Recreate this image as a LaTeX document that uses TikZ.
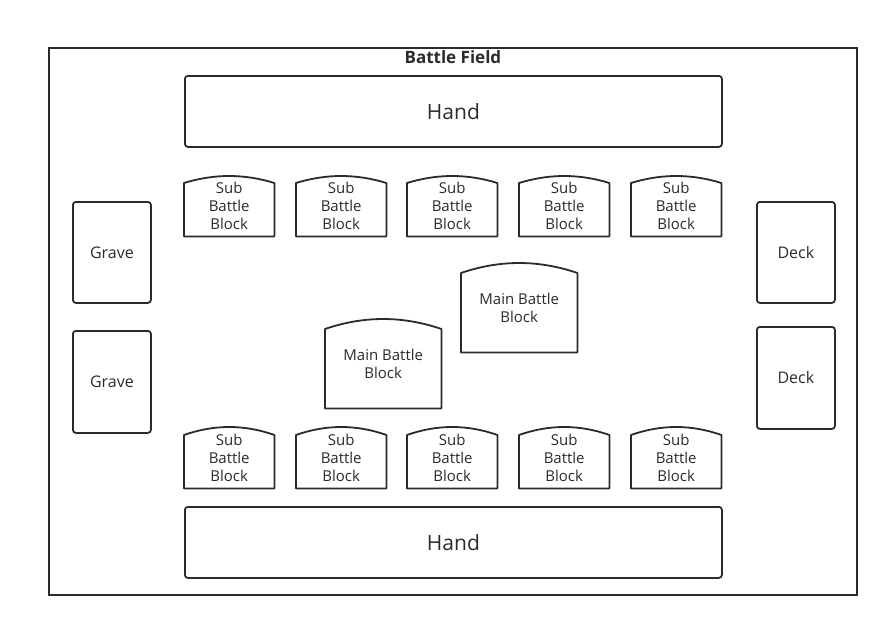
\documentclass[tikz,border=0pt]{standalone}
\usepackage{fontspec}
\setmainfont{Open Sans}
\usepackage{xcolor}
\usetikzlibrary{positioning,calc}
\definecolor{ink}{HTML}{2B2B2B}
\tikzset{
  field/.style = {draw=ink, line width=1.8pt, anchor=north west, inner sep=0pt},
  ttl/.style   = {font=\bfseries\fontsize{17}{20}\selectfont, text=ink, inner sep=1pt},
  zone/.style  = {draw=ink, line width=1.8pt, rounded corners=3pt, anchor=north west, inner sep=0pt,
                  align=center, text=ink, font=\fontsize{16}{19}\selectfont},
  hand/.style  = {zone, minimum width=537pt, minimum height=71pt, font=\fontsize{21}{24}\selectfont},
  pile/.style  = {zone, minimum width=78pt, minimum height=101pt},
  blk/.style   = {anchor=north west, inner sep=0pt, align=center, text=ink,
                  font=\fontsize{15}{18}\selectfont},
  sub/.style   = {blk, minimum width=90pt, minimum height=60pt},
  main/.style  = {blk, minimum width=116pt, minimum height=89pt},
  outl/.style  = {draw=ink, line width=1.8pt, line join=round},
}

\begin{document}
\begin{tikzpicture}[x=1pt, y=-1pt]
  \useasboundingbox (0,0) rectangle (888,627);

  % ---------------- frame ----------------
  \node[field, minimum width=808pt, minimum height=547pt] (bf) at (48,47) {};
  \node[ttl, below=2pt of bf.north] (title) {Battle Field};

  % hands
  \node[hand] (handT) at (184,75) {Hand};
  \node[hand] (handB) at (184,506) {Hand};

  % graves and decks
  \node[pile] (grave1) at (72,201) {Grave};
  \node[pile, minimum height=102pt] (grave2) at (72,330) {Grave};
  \node[pile] (deck1) at (756,201) {Deck};
  \node[pile, minimum height=102pt] (deck2) at (756,326) {Deck};

  % sub battle blocks
  \foreach \x [count=\i] in {184,296,407,519,631} {
    \node[sub] (subT\i) at (\x,176) {Sub\\Battle\\Block};
    \node[sub, minimum height=61pt] (subB\i) at (\x,427) {Sub\\Battle\\Block};
  }

  % main battle blocks
  \node[main] (main1) at (461,263) {Main Battle\\Block};
  \node[main] (main2) at (325,319) {Main Battle\\Block};

  % arched outlines
  \foreach \b/\s in {subT1/7pt,subT2/7pt,subT3/7pt,subT4/7pt,subT5/7pt,
                     subB1/8pt,subB2/8pt,subB3/8pt,subB4/8pt,subB5/8pt,
                     main1/10pt,main2/10pt}
    \draw[outl] (\b.south west) -- ([yshift=-\s]\b.north west)
      .. controls ($(\b.north west)!1/3!(\b.north east)+(0pt,\s/3)$)
             and ($(\b.north west)!2/3!(\b.north east)+(0pt,\s/3)$)
      .. ([yshift=-\s]\b.north east) -- (\b.south east) -- cycle;
\end{tikzpicture}
\end{document}
